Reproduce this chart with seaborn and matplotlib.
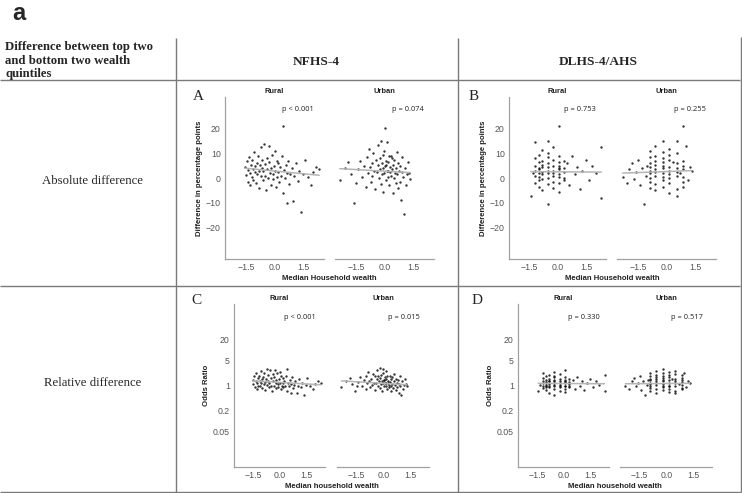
import matplotlib
matplotlib.use("Agg")
import matplotlib.pyplot as plt
import seaborn as sns
import numpy as np
import pandas as pd

sns.set_theme(style="white")
plt.rcParams['font.family'] = ['Liberation Sans', 'DejaVu Sans']

# ---------------- data ----------------
facets = ["Rural", "Urban"]

nfhs_rural_x = [
    -1.55, -1.50, -1.45, -1.42, -1.38, -1.35, -1.30, -1.28, -1.25, -1.22,
    -1.20, -1.15, -1.12, -1.10, -1.05, -1.02, -1.00, -0.95, -0.92, -0.90,
    -0.85, -0.82, -0.80, -0.75, -0.72, -0.70, -0.65, -0.62, -0.60, -0.55,
    -0.52, -0.50, -0.45, -0.42, -0.40, -0.35, -0.32, -0.30, -0.25, -0.22,
    -0.20, -0.15, -0.12, -0.10, -0.05, -0.02, 0.00, 0.05, 0.08, 0.10,
    0.15, 0.18, 0.20, 0.25, 0.30, 0.35, 0.40, 0.42, 0.45, 0.50,
    0.55, 0.60, 0.65, 0.70, 0.75, 0.80, 0.88, 0.95, 1.00, 1.10,
    1.20, 1.25, 1.35, 1.45, 1.55, 1.70, 1.85, 2.00, 2.15, 2.30]
nfhs_rural_abs = [
    4.5, 1.2, 6.8, -1.5, 3.2, 8.5, 2.0, -3.0, 5.5, 0.5,
    7.2, 3.8, -0.8, 10.5, 2.5, 4.8, -2.2, 6.0, 1.5, 9.0,
    3.0, -4.0, 5.2, 12.5, 0.8, 4.0, 7.5, -1.0, 2.8, 14.0,
    5.8, 1.0, -5.0, 3.5, 8.0, 0.2, 6.5, 13.0, 2.2, -2.8,
    4.2, 9.5, 1.8, -0.5, 5.0, 11.0, 3.0, -3.5, 7.0, 0.5,
    2.5, 6.2, -1.8, 4.5, 1.0, 8.8, 21.0, -6.0, 3.2, 0.0,
    5.5, -10.0, 2.0, 7.0, -2.5, 1.5, 4.0, -9.5, 0.8, 6.0,
    -1.2, 3.0, -14.0, 1.8, 7.5, 0.5, -3.0, 2.5, 4.5, 3.5]
nfhs_rural_or = [
    1.4, 1.1, 1.8, 0.9, 1.3, 2.2, 1.2, 0.8, 1.6, 1.0,
    1.9, 1.3, 0.95, 2.6, 1.2, 1.5, 0.85, 1.7, 1.1, 2.3,
    1.25, 0.75, 1.55, 3.0, 1.05, 1.35, 2.0, 0.9, 1.2, 2.8,
    1.6, 1.0, 0.7, 1.3, 2.1, 0.95, 1.75, 2.7, 1.15, 0.85,
    1.4, 2.2, 1.1, 0.9, 1.5, 2.4, 1.2, 0.8, 1.8, 1.0,
    1.15, 1.6, 0.88, 1.3, 1.0, 1.9, 2.9, 0.7, 1.2, 0.95,
    1.4, 0.6, 1.1, 1.7, 0.85, 1.05, 1.3, 0.62, 1.0, 1.5,
    0.9, 1.15, 0.55, 1.05, 1.6, 0.95, 0.8, 1.1, 1.3, 1.2]

nfhs_urban_x = [
    -2.35, -2.10, -1.90, -1.75, -1.60, -1.50, -1.40, -1.30, -1.20, -1.10,
    -1.00, -0.95, -0.90, -0.85, -0.80, -0.75, -0.70, -0.65, -0.60, -0.55,
    -0.50, -0.45, -0.40, -0.38, -0.35, -0.30, -0.28, -0.25, -0.22, -0.20,
    -0.18, -0.15, -0.12, -0.10, -0.08, -0.05, -0.03, 0.00, 0.02, 0.05,
    0.07, 0.10, 0.12, 0.15, 0.17, 0.20, 0.22, 0.25, 0.28, 0.30,
    0.33, 0.35, 0.38, 0.40, 0.43, 0.45, 0.48, 0.50, 0.55, 0.58,
    0.60, 0.65, 0.68, 0.70, 0.75, 0.78, 0.80, 0.85, 0.88, 0.90,
    0.95, 1.00, 1.05, 1.10, 1.15, 1.20, 1.25, 1.30, 0.15, 0.05]
nfhs_urban_abs = [
    -1.0, 4.0, 6.5, 1.5, -10.0, -2.0, 3.5, 7.0, 0.5, 5.0,
    -3.5, 8.5, 2.0, 12.0, 4.5, -1.5, 6.0, 1.0, 10.0, 3.0,
    -4.5, 7.5, 2.5, 13.5, 5.5, 0.0, 8.0, 3.8, -2.5, 15.0,
    6.0, 1.5, 9.5, -5.5, 4.0, 11.0, 2.0, 20.5, 5.0, -1.0,
    7.0, 3.0, 14.5, 0.5, 6.5, -3.0, 9.0, 2.5, 4.5, 9.0,
    1.0, 8.0, 3.5, -6.0, 5.5, 0.0, 7.5, 2.0, -2.0, 4.0,
    10.5, 1.5, -4.0, 6.0, 3.0, -1.5, 5.0, -9.0, 2.5, 8.5,
    0.5, -14.5, 4.0, -3.0, 1.5, 6.5, 2.0, -0.5, 3.0, 5.5]
nfhs_urban_or = [
    0.9, 1.3, 1.6, 1.1, 0.7, 0.95, 1.25, 1.7, 1.0, 1.4,
    0.8, 1.9, 1.15, 2.4, 1.35, 0.88, 1.55, 1.05, 2.1, 1.2,
    0.75, 1.8, 1.2, 2.7, 1.5, 1.0, 1.85, 1.3, 0.85, 3.2,
    1.6, 1.1, 2.0, 0.7, 1.35, 2.3, 1.15, 2.9, 1.45, 0.95,
    1.7, 1.2, 2.6, 1.0, 1.55, 0.8, 1.9, 1.15, 1.35, 0.9,
    1.05, 1.8, 1.25, 0.68, 1.5, 0.98, 1.75, 1.1, 0.85, 1.3,
    2.1, 1.05, 0.75, 1.5, 1.2, 0.9, 1.4, 0.6, 1.1, 1.8,
    1.0, 0.55, 1.3, 0.82, 1.05, 1.5, 1.1, 0.95, 1.2, 1.4]

dlhs_rural_x = [
    -1.2, -1.2, -1.2, -1.2, -1.2, -1.2,
    -1.0, -1.0, -1.0, -1.0, -1.0, -1.0, -1.0, -1.0,
    -0.85, -0.85, -0.85, -0.85, -0.85, -0.85, -0.85, -0.85,
    -0.55, -0.55, -0.55, -0.55, -0.55, -0.55, -0.55, -0.55, -0.55, -0.55,
    -0.25, -0.25, -0.25, -0.25, -0.25, -0.25, -0.25, -0.25,
    0.05, 0.05, 0.05, 0.05, 0.05, 0.05, 0.05, 0.05, 0.05, 0.05,
    0.3, 0.3, 0.3, 0.3, 0.3,
    -1.45, -1.35, 0.5, 0.6, 0.75, 0.9, 1.0, 1.15, 1.3, 1.5, 1.65, 1.8, 2.0, 2.3, 2.3]
dlhs_rural_abs = [
    5.0, -2.0, 8.0, 1.0, 14.5, 3.0,
    2.0, 6.5, -3.5, 0.5, 9.5, 4.0, -1.0, 3.5,
    7.0, 1.5, -5.0, 4.5, 11.5, 2.5, -0.5, 5.5,
    15.0, 3.0, -10.5, 6.0, 0.0, 8.5, 2.0, -2.5, 4.5, 10.0,
    1.0, 5.0, -4.0, 7.5, 3.0, 12.5, -1.5, 2.0,
    21.0, 4.0, -2.0, 6.5, 1.5, 9.0, 3.5, -5.5, 0.5, 5.0,
    2.5, 7.0, -1.0, 4.0, 0.0,
    -7.5, 2.0, 6.0, -3.0, 9.0, 1.5, 4.5, -4.5, 3.0, 7.5, -1.0, 5.0, 2.0, 12.5, -8.0]
dlhs_rural_or = [
    1.3, 0.85, 1.6, 1.0, 2.2, 1.15,
    1.05, 1.45, 0.75, 0.95, 1.8, 1.25, 0.9, 1.2,
    1.5, 1.0, 0.6, 1.3, 2.0, 1.1, 0.92, 1.35,
    2.4, 1.15, 0.55, 1.4, 0.95, 1.7, 1.05, 0.82, 1.3, 1.9,
    1.0, 1.35, 0.7, 1.55, 1.15, 2.1, 0.88, 1.05,
    2.8, 1.25, 0.8, 1.45, 1.0, 1.75, 1.2, 0.65, 0.97, 1.35,
    1.1, 1.5, 0.9, 1.25, 0.98,
    0.7, 1.05, 1.4, 0.8, 1.7, 1.0, 1.3, 0.75, 1.15, 1.5, 0.9, 1.35, 1.05, 2.0, 0.68]

dlhs_urban_x = [
    -2.3, -2.1, -1.95, -1.8, -1.7, -1.6, -1.5, -1.4, -1.3, -1.2, -1.1, -1.05,
    -0.9, -0.9, -0.9, -0.9, -0.9, -0.9, -0.9, -0.9, -0.9,
    -0.6, -0.6, -0.6, -0.6, -0.6, -0.6, -0.6, -0.6, -0.6,
    -0.2, -0.2, -0.2, -0.2, -0.2, -0.2, -0.2, -0.2, -0.2, -0.2,
    0.13, 0.13, 0.13, 0.13, 0.13, 0.13, 0.13, 0.13, 0.13,
    0.5, 0.5, 0.5, 0.5, 0.5, 0.5, 0.5, 0.5,
    0.85, 0.85, 0.85, 0.85, 0.85, 0.85, 0.85,
    0.3, 0.7, 1.0, 1.1, 1.2, 1.3]
dlhs_urban_abs = [
    0.5, -2.0, 3.5, 6.0, -0.5, 2.5, 7.5, -3.0, 4.0, -10.5, 1.0, 5.0,
    2.0, 8.5, -1.5, 4.5, 11.0, 0.0, 6.0, 3.0, -4.0,
    3.5, 13.0, -2.5, 5.5, 1.0, 9.0, -5.0, 7.0, 2.5,
    4.0, 0.5, 10.5, -3.5, 6.5, 2.0, 15.0, -1.0, 5.0, 8.0,
    3.0, -6.0, 7.5, 1.5, 12.0, 4.5, -2.0, 9.5, 0.0,
    15.0, 2.5, -4.5, 6.0, 1.0, 10.0, 4.0, -7.5,
    21.0, 3.5, -1.5, 7.0, 0.5, 5.0, -3.5,
    6.5, 2.0, 13.0, -1.0, 4.5, 3.0]
dlhs_urban_or = [
    1.0, 0.8, 1.3, 1.6, 0.95, 1.2, 1.8, 0.75, 1.35, 0.55, 1.05, 1.45,
    1.1, 1.9, 0.85, 1.4, 2.3, 1.0, 1.55, 1.2, 0.7,
    1.3, 2.5, 0.8, 1.5, 1.05, 2.0, 0.62, 1.7, 1.15,
    1.35, 0.95, 2.2, 0.75, 1.6, 1.1, 2.9, 0.88, 1.45, 1.8,
    1.2, 0.65, 1.75, 1.0, 2.4, 1.4, 0.82, 2.0, 0.98,
    2.6, 1.15, 0.72, 1.5, 1.0, 2.1, 1.3, 0.6,
    2.0, 1.25, 0.85, 1.6, 1.05, 1.4, 0.78,
    1.5, 1.1, 2.2, 0.9, 1.35, 1.2]

# fitted trend lines (endpoints)
fit_a_rural = ([-1.55, 2.30], [4.0, 1.1])
fit_a_urban = ([-2.35, 1.30], [3.8, 2.2])
fit_b_rural = ([-1.45, 2.30], [2.6, 2.4])
fit_b_urban = ([-2.30, 1.30], [2.0, 3.0])
fit_c_rural = ([-1.55, 2.30], [1.35, 1.05])
fit_c_urban = ([-2.35, 1.30], [1.35, 1.05])
fit_d_rural = ([-1.45, 2.30], [1.15, 1.12])
fit_d_urban = ([-2.30, 1.30], [1.12, 1.15])

p_values = {"A": ["p < 0.001", "p = 0.074"], "B": ["p = 0.753", "p = 0.255"],
            "C": ["p < 0.001", "p = 0.015"], "D": ["p = 0.330", "p = 0.517"]}

x_ticks = [-1.5, 0.0, 1.5]
abs_ticks = [-20, -10, 0, 10, 20]
or_ticks = [0.05, 0.2, 1, 5, 20]
or_tick_labels = ["0.05", "0.2", "1", "5", "20"]

# ---------------- figure ----------------
W, H = 742, 493
fig = plt.figure(figsize=(W / 100, H / 100), dpi=100)

bg = fig.add_axes([0, 0, 1, 1])
bg.set_xlim(0, W)
bg.set_ylim(H, 0)
bg.axis("off")
lc = "#7a7a7a"
for (x0, y0, x1, y1) in [(0, 80, 740, 80), (0, 286, 740, 286), (0, 491.5, 741, 491.5),
                         (176, 38, 176, 492), (458, 38, 458, 492), (740.5, 37, 740.5, 492)]:
    bg.plot([x0, x1], [y0, y1], color=lc, lw=1.0, solid_capstyle="butt")

serif = ["Liberation Serif", "DejaVu Serif"]
bg.text(12, 14, "a", fontsize=17, fontweight="bold", va="center", ha="left")
bg.text(5, 47, "Difference between top two", fontsize=9.2, fontweight="bold", family=serif, va="center")
bg.text(5, 61, "and bottom two wealth", fontsize=9.2, fontweight="bold", family=serif, va="center")
bg.text(5, 74.5, "quintiles", fontsize=9.2, fontweight="bold", family=serif, va="center")
bg.text(316, 62, "NFHS-4", fontsize=9.6, fontweight="bold", family=serif, ha="center", va="center")
bg.text(598, 62, "DLHS-4/AHS", fontsize=9.6, fontweight="bold", family=serif, ha="center", va="center")
bg.text(93, 181, "Absolute difference", fontsize=9.2, family=serif, ha="center", va="center")
bg.text(93, 383, "Relative difference", fontsize=9.2, family=serif, ha="center", va="center")


def px_axes(x0, y0, x1, y1):
    return fig.add_axes([x0 / W, 1 - y1 / H, (x1 - x0) / W, (y1 - y0) / H])


axis_col = "#a0a0a0"
tick_col = "#555555"


def draw_panel(letter, rects, datasets, fits, log, ylabel, xlabel, letter_xy):
    axes = []
    for i, (rect, (xs, ys), fit) in enumerate(zip(rects, datasets, fits)):
        ax = px_axes(*rect)
        ax.set_facecolor("none")
        df = pd.DataFrame({"x": xs, "y": ys})
        sns.scatterplot(data=df, x="x", y="y", ax=ax, s=3, color="#111111",
                        linewidth=0, alpha=0.85, legend=False)
        sns.lineplot(x=fit[0], y=fit[1], ax=ax, color="#b5b5b5", lw=1.1, legend=False)
        if log:
            ax.set_yscale("log")
            ax.set_ylim(0.005, 200)
            ax.set_yticks(or_ticks)
            ax.set_yticklabels(or_tick_labels)
            ax.minorticks_off()
        else:
            ax.set_ylim(-33, 33)
            ax.set_yticks(abs_ticks)
            ax.set_yticklabels(["\u221220", "\u221210", "0", "10", "20"])
        ax.set_xlim(-2.6, 2.55)
        ax.set_xticks(x_ticks)
        ax.set_xticklabels(["\u22121.5", "0.0", "1.5"])
        for s in ["top", "right"]:
            ax.spines[s].set_visible(False)
        ax.spines["bottom"].set_color(axis_col)
        ax.spines["bottom"].set_linewidth(0.9)
        ax.spines["left"].set_color(axis_col)
        ax.spines["left"].set_linewidth(0.9)
        ax.tick_params(axis="both", labelsize=6.3, colors=tick_col, length=1.5,
                       width=0.6, pad=1.5)
        ax.tick_params(axis="both", color=axis_col)
        if i == 1:
            ax.spines["left"].set_visible(False)
            ax.set_yticks([])
        ax.set_xlabel("")
        ax.set_ylabel("")
        ax.set_title(facets[i], fontsize=5.4, fontweight="bold", pad=3, color="#222222")
        ax.text(0.90, 0.92, p_values[letter][i], transform=ax.transAxes,
                fontsize=5.4, ha="right", va="center", color="#222222",
                family=["Open Sans", "DejaVu Sans"])
        axes.append(ax)
    axes[0].set_ylabel(ylabel, fontsize=5.6, fontweight="bold", color="#222222", labelpad=2)
    r0, r1 = rects
    xc = (r0[0] + r1[2]) / 2
    bg.text(xc, r0[3] + 19, xlabel, fontsize=5.6, fontweight="bold", ha="center",
            va="center", color="#222222")
    bg.text(letter_xy[0], letter_xy[1], letter, fontsize=11, family=serif,
            ha="center", va="center")


draw_panel("A", [(225, 97, 324, 259), (335, 97, 434, 259)],
           [(nfhs_rural_x, nfhs_rural_abs), (nfhs_urban_x, nfhs_urban_abs)],
           [fit_a_rural, fit_a_urban], False,
           "Difference in percentage points", "Median Household wealth", (198, 97))
draw_panel("B", [(509, 97, 606, 259), (617, 97, 716, 259)],
           [(dlhs_rural_x, dlhs_rural_abs), (dlhs_urban_x, dlhs_urban_abs)],
           [fit_b_rural, fit_b_urban], False,
           "Difference in percentage points", "Median Household wealth", (474, 97))
draw_panel("C", [(234, 304, 325, 467), (337, 304, 429, 467)],
           [(nfhs_rural_x, nfhs_rural_or), (nfhs_urban_x, nfhs_urban_or)],
           [fit_c_rural, fit_c_urban], True,
           "Odds Ratio", "Median household wealth", (196, 300))
draw_panel("D", [(518, 304, 609, 467), (620, 304, 712, 467)],
           [(dlhs_rural_x, dlhs_rural_or), (dlhs_urban_x, dlhs_urban_or)],
           [fit_d_rural, fit_d_urban], True,
           "Odds Ratio", "Median household wealth", (477, 300))

fig.savefig("out.png", dpi=100)
